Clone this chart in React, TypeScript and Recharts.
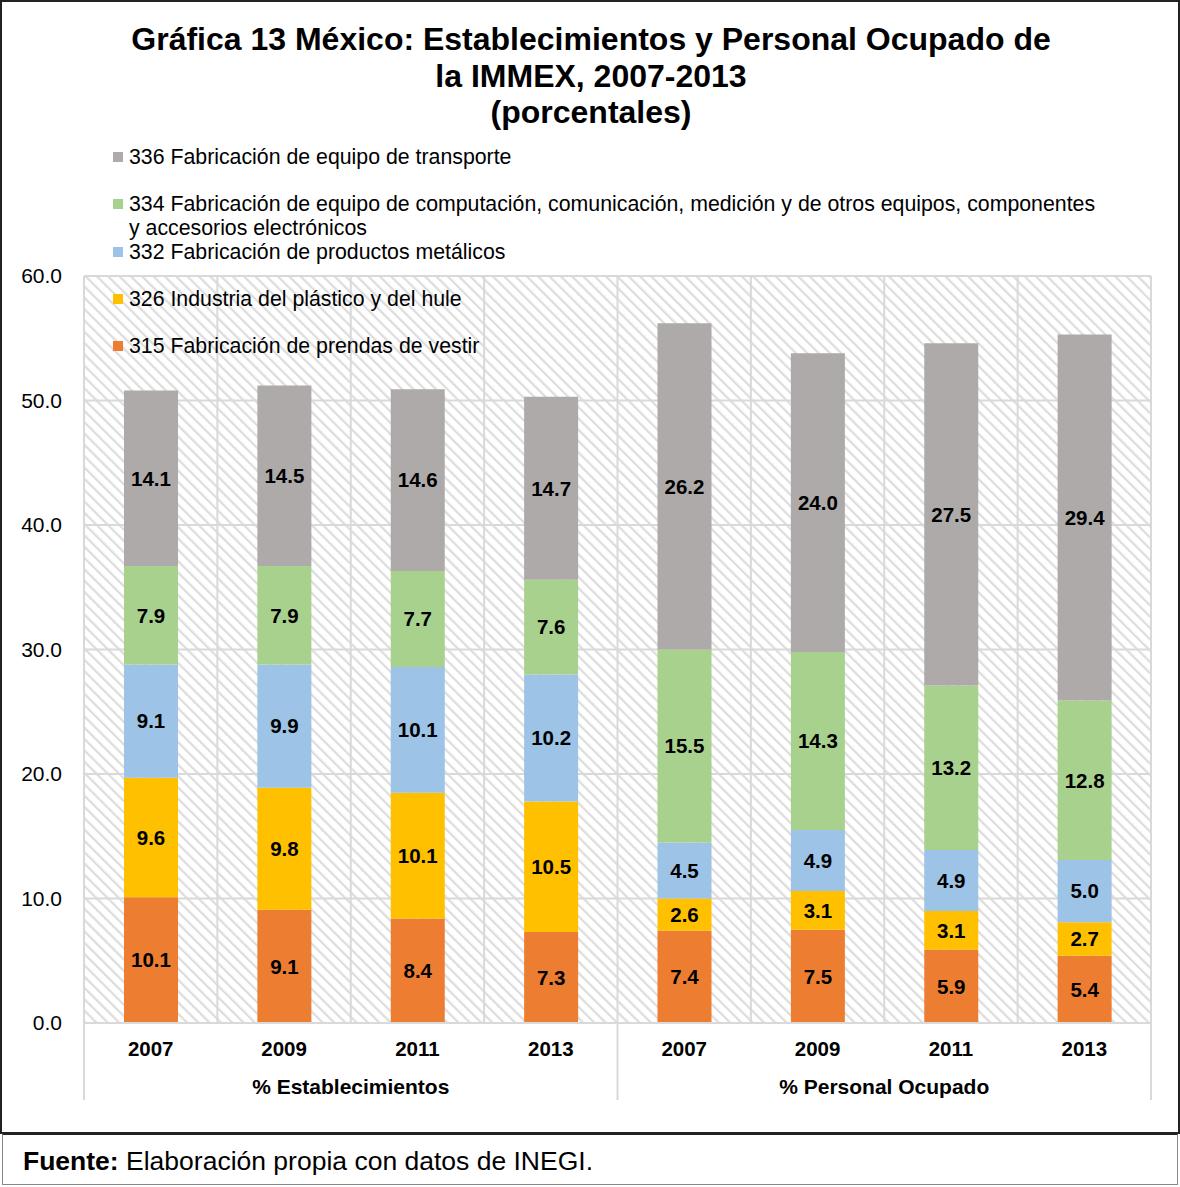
import React from 'react'
import { BarChart, Bar, XAxis, YAxis, CartesianGrid, Legend, LabelList } from 'recharts'

const years = ['2007', '2009', '2011', '2013', '2007', '2009', '2011', '2013']
const groups = [
  '% Establecimientos', '% Establecimientos', '% Establecimientos', '% Establecimientos',
  '% Personal Ocupado', '% Personal Ocupado', '% Personal Ocupado', '% Personal Ocupado',
]
const s315 = [10.1, 9.1, 8.4, 7.3, 7.4, 7.5, 5.9, 5.4]
const s326 = [9.6, 9.8, 10.1, 10.5, 2.6, 3.1, 3.1, 2.7]
const s332 = [9.1, 9.9, 10.1, 10.2, 4.5, 4.9, 4.9, 5.0]
const s334 = [7.9, 7.9, 7.7, 7.6, 15.5, 14.3, 13.2, 12.8]
const s336 = [14.1, 14.5, 14.6, 14.7, 26.2, 24.0, 27.5, 29.4]
const yTicks = [0, 10, 20, 30, 40, 50, 60]

const series = [
  { key: 's315', name: '315 Fabricación de prendas de vestir', color: '#ED7D31' },
  { key: 's326', name: '326 Industria del plástico y del hule', color: '#FFC000' },
  { key: 's332', name: '332 Fabricación de productos metálicos', color: '#9DC3E6' },
  {
    key: 's334',
    name: '334 Fabricación de equipo de computación, comunicación, medición y de otros equipos, componentes y accesorios electrónicos',
    color: '#A9D18E',
  },
  { key: 's336', name: '336 Fabricación de equipo de transporte', color: '#AEAAAA' },
]

const data = years.map((year, i) => ({
  year,
  group: groups[i],
  s315: s315[i],
  s326: s326[i],
  s332: s332[i],
  s334: s334[i],
  s336: s336[i],
}))

const FONT = "'Liberation Sans', Arial, sans-serif"
const GRID = '#D9D9D9'

function halfBand(props: any) {
  if (props.payload && typeof props.payload.offset === 'number' && props.payload.offset > 0) return props.payload.offset
  return props.width / props.visibleTicksCount / 2
}

function YearTick(props: any) {
  const { x, y, payload, index } = props
  const half = halfBand(props)
  const lines: number[] = []
  if (index === 0) lines.push(x - half)
  if (index === 3 || index === 7) lines.push(x + half)
  return (
    <g>
      {lines.map((lx) => (
        <line key={lx} x1={lx} x2={lx} y1={y} y2={y + 77} stroke={GRID} strokeWidth={2} />
      ))}
      <text x={x} y={y + 25} textAnchor="middle" dominantBaseline="central" fontFamily={FONT} fontWeight="bold" fontSize={20.5} fill="#000">
        {payload.value}
      </text>
    </g>
  )
}

function GroupTick(props: any) {
  const { x, y, payload } = props
  return (
    <text x={x} y={y + 23} textAnchor="middle" dominantBaseline="central" fontFamily={FONT} fontWeight="bold" fontSize={21} fill="#000">
      {payload.value}
    </text>
  )
}

function LegendBox() {
  const items = [...series].reverse()
  return (
    <div style={{ fontFamily: FONT, fontSize: 21.3, color: '#000' }}>
      {items.map((s) => (
        <div key={s.key} style={{ height: 47.3, display: 'flex', alignItems: 'flex-start' }}>
          <span style={{ display: 'inline-block', width: 10, height: 10, background: s.color, marginTop: 7, marginRight: 6, flex: 'none' }} />
          <span style={{ width: 975, lineHeight: '24px', whiteSpace: 'normal' }}>{s.name}</span>
        </div>
      ))}
    </div>
  )
}

export default function App() {
  return (
    <div style={{ position: 'absolute', left: 0, top: 0, width: 1180, height: 1187, background: '#fff' }}>
      <svg width={0} height={0} style={{ position: 'absolute' }}>
        <defs>
          <pattern id="hatch" width={8} height={8} patternUnits="userSpaceOnUse" patternTransform="rotate(-45)">
            <rect width={8} height={8} fill="#fff" />
            <line x1={0} y1={0} x2={0} y2={8} stroke="#DDDDDD" strokeWidth={4.5} />
          </pattern>
        </defs>
      </svg>

      <div style={{ position: 'absolute', left: 0, top: 0 }}>
        <BarChart
          width={1180}
          height={1134}
          data={data}
          margin={{ top: 276, right: 29, left: 0, bottom: 31 }}
          barSize={54}
        >
          <CartesianGrid
            stroke={GRID}
            strokeWidth={2}
            fill="url(#hatch)"
            fillOpacity={1}
            verticalCoordinatesGenerator={({ offset }: any) =>
              years.map((_, i) => offset.left + (i * offset.width) / years.length).concat(offset.left + offset.width)
            }
          />
          <XAxis
            xAxisId={0}
            dataKey="year"
            height={40}
            axisLine={{ stroke: GRID, strokeWidth: 2 }}
            tickLine={false}
            tickSize={0}
            tickMargin={0}
            interval={0}
            tick={<YearTick />}
          />
          <XAxis
            xAxisId={1}
            dataKey="group"
            allowDuplicatedCategory={false}
            height={40}
            axisLine={false}
            tickLine={false}
            tickSize={0}
            tickMargin={0}
            interval={0}
            tick={<GroupTick />}
          />
          <YAxis
            width={84}
            domain={[0, 60]}
            ticks={yTicks}
            interval={0}
            axisLine={false}
            tickLine={false}
            tickSize={0}
            tickMargin={22}
            tickFormatter={(v: number) => v.toFixed(1)}
            tick={{ fontFamily: FONT, fontSize: 21, fill: '#000' }}
          />
          <Legend
            layout="horizontal"
            verticalAlign="middle"
            align="center"
            wrapperStyle={{ position: 'absolute', top: 145, left: 113, width: 1000 }}
            content={() => <LegendBox />}
          />
          {series.map((s) => (
            <Bar key={s.key} xAxisId={0} dataKey={s.key} name={s.name} stackId="a" fill={s.color} isAnimationActive={false}>
              <LabelList
                dataKey={s.key}
                position="center"
                formatter={(v: any) => Number(v).toFixed(1)}
                fill="#000"
                fontFamily={FONT}
                fontWeight="bold"
                fontSize={20.5}
              />
            </Bar>
          ))}
        </BarChart>
      </div>

      <div
        style={{
          position: 'absolute',
          left: 0,
          top: 0,
          width: 1180,
          height: 1134,
          boxSizing: 'border-box',
          border: '2px solid #222',
          pointerEvents: 'none',
        }}
      />
      <div
        style={{
          position: 'absolute',
          left: 0,
          top: 21,
          width: 1182,
          textAlign: 'center',
          fontFamily: FONT,
          fontWeight: 'bold',
          fontSize: 32,
          lineHeight: '36.5px',
          color: '#000',
        }}
      >
        <div>Gráfica 13 México: Establecimientos y Personal Ocupado de</div>
        <div>la IMMEX, 2007-2013</div>
        <div>(porcentales)</div>
      </div>

      <div
        style={{
          position: 'absolute',
          left: 2,
          top: 1133,
          width: 1176,
          height: 52,
          boxSizing: 'border-box',
          border: '1px solid #888',
          borderTop: '2px solid #222',
          fontFamily: FONT,
          fontSize: 26.5,
          color: '#000',
          paddingLeft: 20,
          lineHeight: '52px',
        }}
      >
        <b>Fuente:</b> Elaboración propia con datos de INEGI.
      </div>
    </div>
  )
}
